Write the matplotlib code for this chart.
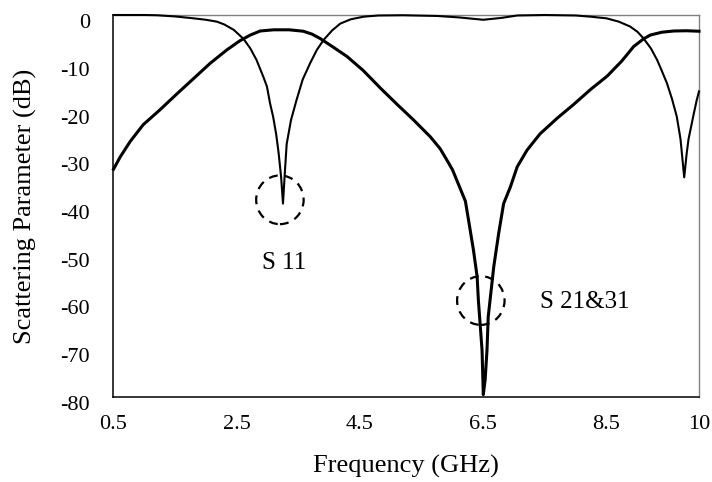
import matplotlib
matplotlib.use("Agg")
import matplotlib.pyplot as plt
from matplotlib.patches import Ellipse
from matplotlib.transforms import ScaledTranslation

plt.rcParams["font.family"] = ["Liberation Serif", "DejaVu Serif"]
plt.rcParams["axes.unicode_minus"] = False

# S11 (reflection) response
s11_freq = [0.5, 1.0, 1.2, 1.5, 1.8, 2.0, 2.18, 2.3, 2.45, 2.61, 2.72, 2.82,
            2.93, 2.99, 3.04, 3.09, 3.14, 3.18, 3.22, 3.25, 3.28, 3.31, 3.38,
            3.47, 3.57, 3.69, 3.80, 3.91, 4.05, 4.18, 4.35, 4.56, 4.8, 5.2,
            5.75, 6.1, 6.5, 6.8, 7.05, 7.5, 8.0, 8.24, 8.5, 8.7, 8.88, 9.0,
            9.10, 9.22, 9.32, 9.40, 9.48, 9.56, 9.64, 9.70, 9.76, 9.80, 9.83,
            9.87, 9.91, 9.96, 10.0]
s11_db = [0.0, 0.0, -0.05, -0.3, -0.7, -1.0, -1.4, -2.0, -3.1, -5.0, -7.0, -9.4,
          -12.9, -15.0, -18.5, -21.3, -25.0, -29.0, -34.0, -39.5, -33.0, -27.0,
          -22.0, -17.8, -13.5, -10.1, -7.3, -5.2, -3.2, -1.8, -0.9, -0.35, -0.1,
          -0.05, -0.2, -0.5, -1.0, -0.6, -0.1, 0.0, -0.1, -0.35, -0.7, -1.4,
          -2.4, -3.5, -4.9, -7.0, -9.4, -11.8, -14.3, -17.5, -21.3, -26.0,
          -34.0, -29.0, -26.0, -23.5, -21.0, -18.0, -16.0]

# S21 / S31 (transmission) response
s21_freq = [0.5, 0.61, 0.77, 0.98, 1.25, 1.53, 1.8, 2.07, 2.34, 2.55, 2.72,
            2.88, 3.1, 3.35, 3.58, 3.72, 3.85, 4.05, 4.29, 4.55, 4.83, 5.1,
            5.37, 5.64, 5.80, 5.91, 6.0, 6.07, 6.14, 6.21, 6.26, 6.34, 6.40,
            6.42, 6.48, 6.50, 6.53, 6.56, 6.58, 6.61, 6.67, 6.75, 6.83, 6.94,
            7.05, 7.21, 7.42, 7.7, 7.96, 8.24, 8.51, 8.75, 8.94, 9.1, 9.21,
            9.4, 9.59, 9.8, 10.0]
s21_db = [-32.3, -29.7, -26.5, -23.0, -19.9, -16.5, -13.3, -10.1, -7.3, -5.4,
          -4.2, -3.35, -3.1, -3.1, -3.4, -4.0, -4.9, -6.6, -8.7, -11.6, -15.3,
          -18.7, -22.0, -25.5, -28.0, -30.4, -32.4, -34.6, -36.8, -39.0,
          -42.9, -49.2, -54.8, -59.7, -70.2, -79.5, -76.4, -70.2, -63.2,
          -59.7, -52.7, -45.7, -39.5, -36.0, -31.8, -28.3, -24.9, -21.6, -18.8,
          -15.6, -12.8, -9.6, -6.6, -5.0, -4.2, -3.6, -3.35, -3.3, -3.4]

x_ticks = [0.5, 2.5, 4.5, 6.5, 8.5, 10]
x_tick_labels = ["0.5", "2.5", "4.5", "6.5", "8.5", "10"]
y_ticks = [0, -10, -20, -30, -40, -50, -60, -70, -80]

# Resonance markers (centre frequency, centre level) and their labels
marker_s11 = (3.2, -38.7)
marker_s21 = (6.46, -59.8)
label_s11 = ("S 11", 3.27, -53.2)
label_s21 = ("S 21&31", 8.14, -61.4)

fig = plt.figure(figsize=(7.12, 4.82), dpi=100)
ax = fig.add_axes([113.5 / 712, 1 - 397 / 482, 585.5 / 712, 382 / 482])

ax.plot(s11_freq, s11_db, color="black", lw=1.5, clip_on=False, zorder=3)
ax.plot(s21_freq, s21_db, color="black", lw=2.2, clip_on=False, zorder=3)

for (cx, cy) in (marker_s11, marker_s21):
    ax.add_patch(Ellipse((cx, cy), width=0.77, height=10.2, fill=False,
                         edgecolor="black", lw=1.6, linestyle=(0, (4, 3)),
                         zorder=4))

for text, tx, ty in (label_s11, label_s21):
    ax.text(tx, ty, text, ha="center", va="baseline", fontsize=18)

ax.set_xlim(0.5, 10)
ax.set_ylim(-80, 0)
ax.set_xticks(x_ticks)
ax.set_xticklabels(x_tick_labels)
ax.set_yticks(y_ticks)
ax.tick_params(axis="both", length=0, labelsize=16)
ax.tick_params(axis="x", pad=13)
ax.tick_params(axis="y", pad=17)

offset = ScaledTranslation(0, -6 / 100, fig.dpi_scale_trans)
for lbl in ax.get_yticklabels():
    lbl.set_transform(lbl.get_transform() + offset)

for side in ("left", "bottom"):
    ax.spines[side].set_color("black")
    ax.spines[side].set_linewidth(1.1)
for side in ("top", "right"):
    ax.spines[side].set_color("#808080")
    ax.spines[side].set_linewidth(1.0)

ax.set_xlabel("Frequency (GHz)", fontsize=19, va="baseline")
ax.xaxis.set_label_coords(0.5, (397 - 473) / 382)
ax.set_ylabel("Scattering Parameter (dB)", fontsize=19, va="center")
ax.yaxis.set_label_coords((25 - 113.5) / 585.5, 0.5)

fig.savefig("out.png", dpi=100)
